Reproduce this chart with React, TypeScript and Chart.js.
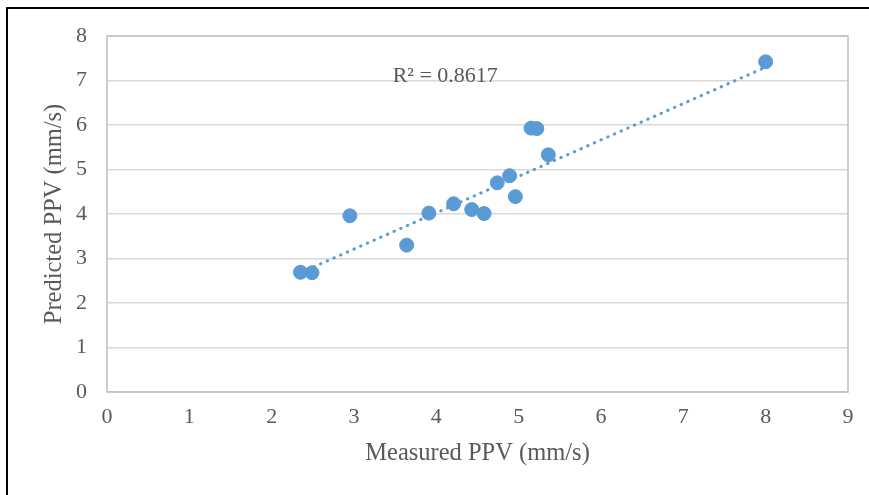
import React, { useEffect, useRef } from "react";
import { Chart, registerables } from "chart.js";

Chart.register(...registerables);

const measuredPPV = [2.35, 2.49, 2.95, 3.64, 3.91, 4.21, 4.43, 4.58, 4.74, 4.89, 4.96, 5.15, 5.22, 5.36, 8.0];
const predictedPPV = [2.69, 2.68, 3.96, 3.30, 4.02, 4.23, 4.10, 4.01, 4.70, 4.86, 4.39, 5.93, 5.92, 5.33, 7.42];
const trendX = [2.35, 8.0];
const trendY = [2.68, 7.30];
const xTicks = [0, 1, 2, 3, 4, 5, 6, 7, 8, 9];
const yTicks = [0, 1, 2, 3, 4, 5, 6, 7, 8];
const rSquaredLabel = "R² = 0.8617";
const xTitle = "Measured PPV (mm/s)";
const yTitle = "Predicted PPV (mm/s)";

const FONT = "'Liberation Serif', 'Times New Roman', serif";
const TEXT = "#595959";

export default function App() {
  const ref = useRef<HTMLCanvasElement | null>(null);

  useEffect(() => {
    if (!ref.current) return;
    const points = measuredPPV.map((x, i) => ({ x, y: predictedPPV[i] }));
    const trend = trendX.map((x, i) => ({ x, y: trendY[i] }));

    const frame = {
      id: "frame",
      afterDatasetsDraw(chart: any) {
        const { ctx, chartArea: a } = chart;
        ctx.save();
        ctx.strokeStyle = "#bfbfbf";
        ctx.lineWidth = 1.5;
        ctx.strokeRect(a.left, a.top, a.right - a.left, a.bottom - a.top);
        ctx.restore();
      },
      afterDraw(chart: any) {
        const { ctx, scales } = chart;
        ctx.save();
        ctx.font = `22px ${FONT}`;
        ctx.fillStyle = TEXT;
        ctx.textAlign = "left";
        ctx.textBaseline = "middle";
        ctx.fillText(rSquaredLabel, scales.x.getPixelForValue(3.47), scales.y.getPixelForValue(7.1));
        ctx.restore();
      },
    };

    const chart = new Chart(ref.current, {
      type: "scatter",
      data: {
        datasets: [
          {
            type: "line",
            data: trend,
            borderColor: "#5B9BD5",
            borderWidth: 3,
            borderDash: [0.5, 6.8],
            borderCapStyle: "round",
            pointRadius: 0,
            fill: false,
            order: 2,
          } as any,
          {
            data: points,
            backgroundColor: "#5B9BD5",
            borderColor: "#5B9BD5",
            pointRadius: 7,
            pointHoverRadius: 7,
            order: 1,
          },
        ],
      },
      plugins: [frame],
      options: {
        animation: false,
        responsive: false,
        devicePixelRatio: 1,
        layout: { padding: { left: 0, top: 36, right: 21, bottom: 0 } },
        plugins: { legend: { display: false }, tooltip: { enabled: false } },
        scales: {
          x: {
            type: "linear",
            min: 0,
            max: 9,
            afterBuildTicks: (s: any) => { s.ticks = xTicks.map((v) => ({ value: v })); },
            afterFit: (s: any) => { s.height = 103; },
            ticks: { font: { family: FONT, size: 22 }, color: TEXT, padding: 12 },
            grid: { display: false, drawTicks: false },
            border: { display: false },
            title: { display: true, text: xTitle, color: TEXT, font: { family: FONT, size: 24.5 }, padding: { top: 0, bottom: 27 } },
          },
          y: {
            type: "linear",
            min: 0,
            max: 8,
            afterBuildTicks: (s: any) => { s.ticks = yTicks.map((v) => ({ value: v })); },
            afterFit: (s: any) => { s.width = 107; },
            ticks: { font: { family: FONT, size: 22 }, color: TEXT, padding: 20 },
            grid: { color: "#d9d9d9", lineWidth: 1.5, drawTicks: false },
            border: { display: false },
            title: { display: true, text: yTitle, color: TEXT, font: { family: FONT, size: 24.5 }, padding: { top: 40, bottom: 0 } },
          },
        },
      } as any,
    });
    return () => chart.destroy();
  }, []);

  return (
    <div style={{ position: "fixed", left: 0, top: 0, width: 869, height: 495, background: "#fff", overflow: "hidden" }}>
      <div style={{ position: "absolute", left: 6, top: 7, right: -10, bottom: -10, borderLeft: "2px solid #000", borderTop: "2px solid #000" }} />
      <canvas ref={ref} width={869} height={495} style={{ position: "absolute", left: 0, top: 0, width: 869, height: 495 }} />
    </div>
  );
}
